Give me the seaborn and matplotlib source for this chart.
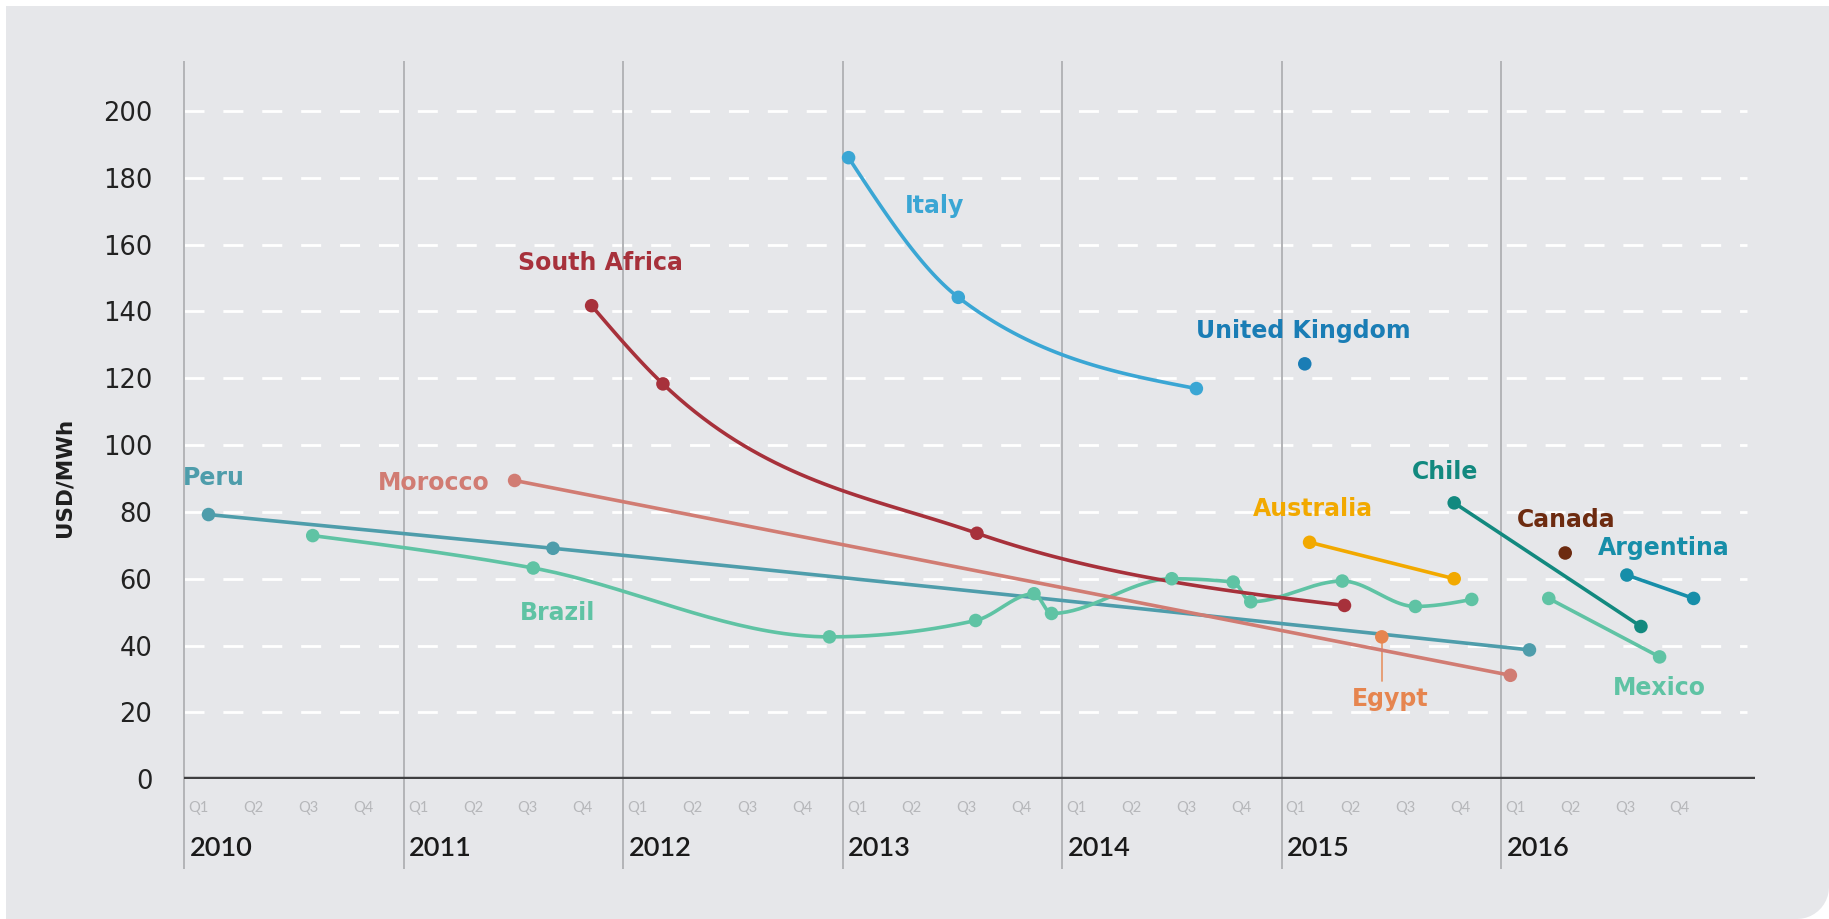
import numpy as np
import pandas as pd
import matplotlib
matplotlib.use("Agg")
import matplotlib.pyplot as plt
import seaborn as sns
from matplotlib.path import Path
from matplotlib.patches import PathPatch

# ---------------- data (time in fractional years, USD/MWh) ----------------
peru_t = [2010.11, 2011.68, 2016.13]
peru_v = [79.2, 69.1, 38.7]

brazil_t = [2010.585, 2011.59, 2012.94, 2013.606, 2013.872, 2013.952, 2014.50,
            2014.78, 2014.86, 2015.277, 2015.61, 2015.867]
brazil_v = [72.9, 63.2, 42.6, 47.5, 55.5, 49.6, 60.0, 59.0, 53.1, 59.3, 51.7, 53.8]

italy_t = [2013.027, 2013.527, 2014.612]
italy_v = [186.0, 144.2, 116.9]

safrica_t = [2011.856, 2012.181, 2013.612, 2015.287]
safrica_v = [141.7, 118.3, 73.6, 52.0]

morocco_t = [2011.505, 2016.043]
morocco_v = [89.4, 31.1]

uk_t = [2015.106]
uk_v = [124.3]

australia_t = [2015.128, 2015.787]
australia_v = [70.9, 60.0]

egypt_t = [2015.457]
egypt_v = [42.6]

chile_t = [2015.787, 2016.638]
chile_v = [82.7, 45.7]

canada_t = [2016.293]
canada_v = [67.7]

argentina_t = [2016.574, 2016.878]
argentina_v = [61.1, 54.1]

mexico_t = [2016.218, 2016.723]
mexico_v = [54.1, 36.6]

years = [2010, 2011, 2012, 2013, 2014, 2015, 2016]
quarters = ["Q1", "Q2", "Q3", "Q4"]
yticks = [0, 20, 40, 60, 80, 100, 120, 140, 160, 180, 200]

colors = {
    "Peru": "#4e9dab", "Brazil": "#5fc3a4", "Italy": "#3aa6d4",
    "South Africa": "#a7313b", "Morocco": "#d17c73", "United Kingdom": "#1a7db5",
    "Australia": "#f2a900", "Egypt": "#e6854f", "Chile": "#12897f",
    "Canada": "#6d2b10", "Argentina": "#178ea9", "Mexico": "#5fc3a4",
}

series = [
    ("Peru", peru_t, peru_v), ("Brazil", brazil_t, brazil_v),
    ("Morocco", morocco_t, morocco_v), ("South Africa", safrica_t, safrica_v),
    ("Italy", italy_t, italy_v), ("United Kingdom", uk_t, uk_v),
    ("Australia", australia_t, australia_v), ("Egypt", egypt_t, egypt_v),
    ("Chile", chile_t, chile_v), ("Canada", canada_t, canada_v),
    ("Argentina", argentina_t, argentina_v), ("Mexico", mexico_t, mexico_v),
]

# label positions (x, y, ha)
labels = {
    "Peru": (2009.995, 90.0, "left"), "Morocco": (2011.138, 88.7, "center"),
    "Brazil": (2011.70, 49.6, "center"), "South Africa": (2011.894, 154.6, "center"),
    "Italy": (2013.42, 171.4, "center"), "United Kingdom": (2015.10, 134.0, "center"),
    "Chile": (2015.745, 91.8, "center"), "Australia": (2015.144, 81.0, "center"),
    "Canada": (2016.298, 77.5, "center"), "Argentina": (2016.74, 69.1, "center"),
    "Mexico": (2016.723, 27.2, "center"), "Egypt": (2015.495, 24.1, "center"),
}


def monotone_curve(xs, ys, n=40):
    """Render-time smoothing (d3 curveMonotoneX style) through the data points."""
    x = np.asarray(xs, float)
    y = np.asarray(ys, float)
    if len(x) < 3:
        return x, y
    h = np.diff(x)
    d = np.diff(y) / h
    m = np.zeros(len(x))
    for i in range(1, len(x) - 1):
        s0, s1 = d[i - 1], d[i]
        p = (s0 * h[i] + s1 * h[i - 1]) / (h[i - 1] + h[i])
        m[i] = (np.sign(s0) + np.sign(s1)) * min(abs(s0), abs(s1), 0.5 * abs(p))
    m[0] = (3 * d[0] - m[1]) / 2
    m[-1] = (3 * d[-1] - m[-2]) / 2
    X, Y = [], []
    for i in range(len(x) - 1):
        tt = np.linspace(0, 1, n)
        h00 = 2 * tt**3 - 3 * tt**2 + 1
        h10 = tt**3 - 2 * tt**2 + tt
        h01 = -2 * tt**3 + 3 * tt**2
        h11 = tt**3 - tt**2
        X.append(x[i] + tt * h[i])
        Y.append(h00 * y[i] + h10 * h[i] * m[i] + h01 * y[i + 1] + h11 * h[i] * m[i + 1])
    return np.concatenate(X), np.concatenate(Y)


sns.set_theme(style="white")
plt.rcParams["font.family"] = ["DejaVu Sans"]

W, H = 1829, 919
fig = plt.figure(figsize=(W / 100, H / 100), dpi=100, facecolor="white")

# background panel with rounded bottom-right corner
bg = "#e6e7ea"
x0, y0, r = 6, 0, 32
top = H - 6
verts = [(x0, y0), (W - r, y0)]
for a in np.linspace(-np.pi / 2, 0, 12):
    verts.append((W - r + r * np.cos(a), r + r * np.sin(a)))
verts += [(W, top), (x0, top), (x0, y0)]
verts = [(vx / W, vy / H) for vx, vy in verts]
fig.patches.append(PathPatch(Path(verts), transform=fig.transFigure,
                             facecolor=bg, edgecolor="none", zorder=-10))

ax = fig.add_axes([0.1008, 0.1521, 0.859, 0.7818])
ax.patch.set_visible(False)
for s in ax.spines.values():
    s.set_visible(False)
ax.set_xlim(2010, 2017.16)
ax.set_ylim(0, 215)

# gridlines
ax.hlines(yticks[1:], 2010, 2017.12, colors="white", linewidth=2.0,
          linestyles=(0, (7.2, 6.8)), zorder=1)
# year separators
ax.vlines(years, -27, 215, colors="#b3b4b7", linewidth=1.4, clip_on=False, zorder=1)
# zero axis
ax.axhline(0, color="#3f3f41", linewidth=3.2, zorder=2)

# series
for name, t, v in series:
    c = colors[name]
    if len(t) > 1:
        cx, cy = monotone_curve(t, v)
        sns.lineplot(x=cx, y=cy, sort=False, estimator=None, color=c,
                     linewidth=2.6, ax=ax, zorder=4)
    sns.scatterplot(x=t, y=v, color=c, s=95, edgecolor="none", ax=ax, zorder=5)

# Egypt leader line
ax.plot([egypt_t[0], egypt_t[0]], [egypt_v[0], 29.5], color=colors["Egypt"],
        linewidth=1.3, alpha=0.8, zorder=3)

# series labels
for name, (lx, ly, ha) in labels.items():
    ax.text(lx, ly, name, color=colors[name], fontsize=17, fontweight="bold",
            ha=ha, va="center", zorder=6)

# y ticks
ax.set_yticks(yticks)
ax.set_yticklabels([str(v) for v in yticks], fontsize=18.5, color="#222222")
ax.tick_params(axis="y", length=0, pad=23)
ax.set_xticks([])
fig.text(0.035, 0.48, "USD/MWh", rotation=90, fontsize=15.5, fontweight="bold",
         color="#1e1e1e", ha="center", va="center")

# quarter and year labels
for yr in years:
    for i, q in enumerate(quarters):
        ax.text(yr + 0.065 + 0.25 * i, -8.6, q, fontsize=10.5, color="#b6b7ba",
                family="Lato", ha="center", va="center", clip_on=False)
    ax.text(yr + 0.025, -20.6, str(yr), fontsize=19.5, color="#1a1a1a",
            family="Lato", fontweight="semibold", ha="left", va="center",
            clip_on=False)

fig.savefig("out.png", dpi=100, facecolor=fig.get_facecolor())
